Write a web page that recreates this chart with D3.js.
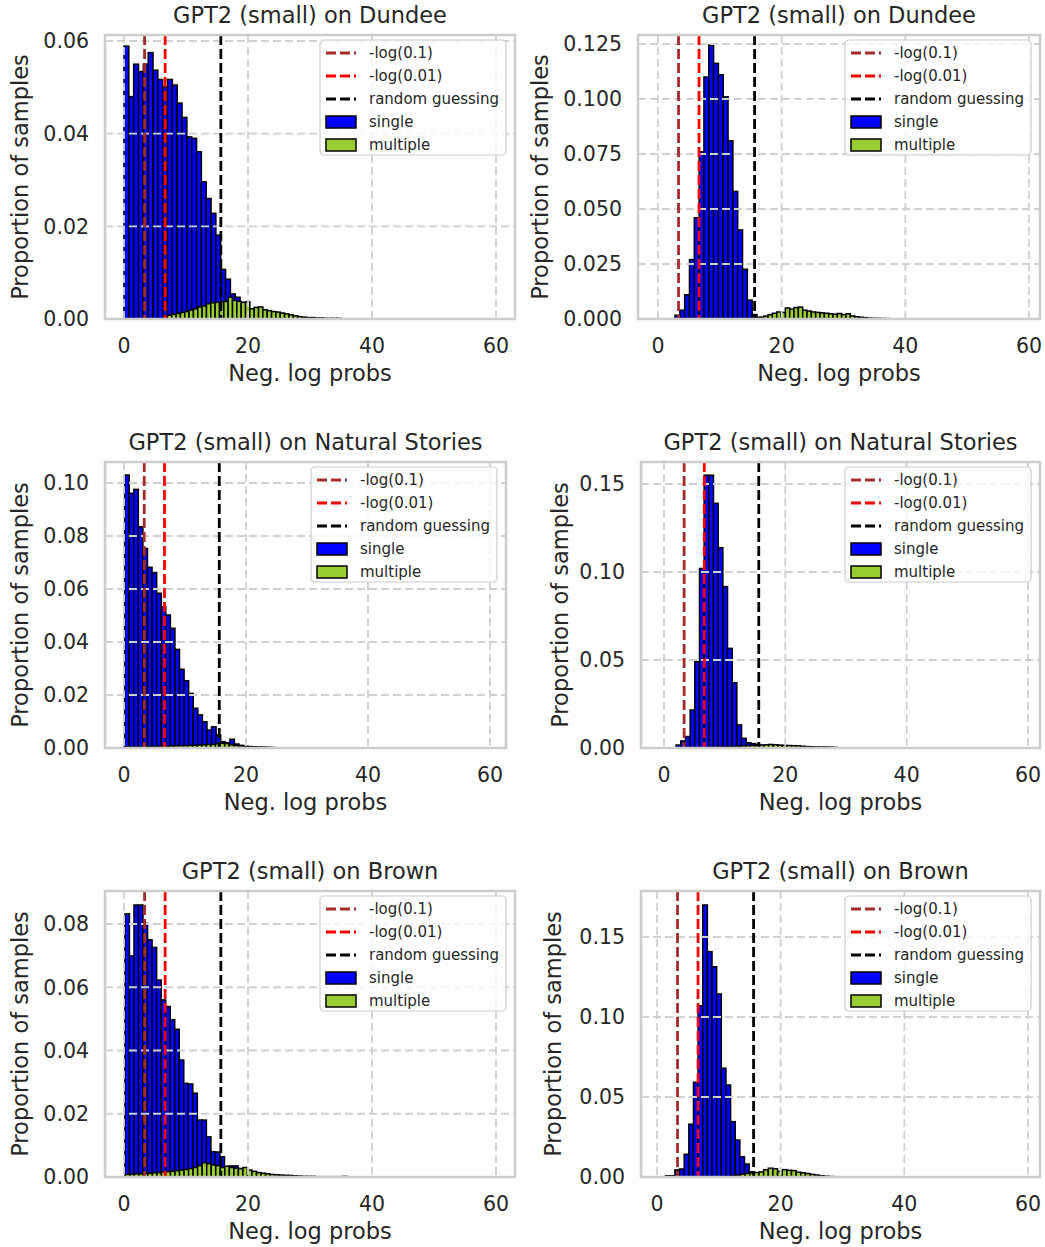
<!DOCTYPE html>
<html>
<head>
<meta charset="utf-8">
<script src="https://cdn.jsdelivr.net/npm/d3@7"></script>
<style>
  body { margin: 0; background: #fff; }
  text { font-family: "DejaVu Sans", sans-serif; fill: #262626; }
</style>
</head>
<body>
<div id="chart"></div>
<script>
// ---- data ----
const titles = ["GPT2 (small) on Dundee", "GPT2 (small) on Dundee",
  "GPT2 (small) on Natural Stories", "GPT2 (small) on Natural Stories",
  "GPT2 (small) on Brown", "GPT2 (small) on Brown"];
const xTicks = [0, 20, 40, 60];
const yTicks = [
  [0, 0.02, 0.04, 0.06],
  [0, 0.025, 0.05, 0.075, 0.1, 0.125],
  [0, 0.02, 0.04, 0.06, 0.08, 0.1],
  [0, 0.05, 0.1, 0.15],
  [0, 0.02, 0.04, 0.06, 0.08],
  [0, 0.05, 0.1, 0.15]
];
// -log2(0.1), -log2(0.01), log2(vocab size)
const refLineX = [3.32, 6.64, 15.62];
const legendLabels = ["-log(0.1)", "-log(0.01)", "random guessing", "single", "multiple"];

// histogram bins: first left edge and bin width, then heights
const singleStart = [0, 2.75, 0.1, 2.0, 0.15, 1.4];
const singleWidth = [0.78, 0.78, 0.75, 0.77, 0.73, 0.75];
const multipleStart = [7.0, 15.7, 0, 7.5, 0.2, 12.0];
const multipleWidth = [0.7, 0.7, 0.75, 0.75, 0.73, 0.75];

const singleDundeeL = [0.0589, 0.048, 0.055, 0.0534, 0.055, 0.0575, 0.0537, 0.0517, 0.0501, 0.0517,
  0.0505, 0.0466, 0.0435, 0.0393, 0.039, 0.0361, 0.0296, 0.026, 0.0228, 0.0181, 0.0107, 0.0086,
  0.0054, 0.0047, 0.003, 0.002, 0.0015, 0.001, 0.0008, 0.0006, 0.0005, 0.0004, 0.0003, 0.0003,
  0.0002, 0.0002, 0.0001, 0.0001, 0.0001, 0.0001, 0.0001, 0.0001, 0.0001, 0.0001, 0.0001];
const multipleDundeeL = [0.0008, 0.0010, 0.0012, 0.0014, 0.0016, 0.0019, 0.0022, 0.0026, 0.0028,
  0.0033, 0.0035, 0.0036, 0.0037, 0.0038, 0.0047, 0.0040, 0.0038, 0.0036, 0.0037, 0.0022, 0.0025,
  0.0026, 0.0020, 0.0018, 0.0016, 0.0015, 0.0013, 0.0011, 0.0009, 0.0007, 0.0005, 0.0004, 0.0003,
  0.0003, 0.0002, 0.0002, 0.0001, 0.0001, 0.0001, 0.0001];
const singleDundeeR = [0.0017, 0.004, 0.011, 0.027, 0.046, 0.076, 0.110, 0.1245, 0.1162, 0.111,
  0.101, 0.081, 0.058, 0.0405, 0.0226, 0.0086, 0.002];
const multipleDundeeR = [0.0006, 0.0009, 0.0013, 0.0020, 0.0026, 0.0032, 0.0030, 0.0050, 0.0045,
  0.0052, 0.0054, 0.0040, 0.0036, 0.0032, 0.0030, 0.0028, 0.0026, 0.0024, 0.0022, 0.0025, 0.0020,
  0.0024, 0.0014, 0.0010, 0.0008, 0.0006, 0.0004, 0.0003, 0.0003, 0.0002, 0.0002, 0.0001, 0.0001,
  0.0001, 0.0001];
const singleNatStoriesL = [0.103, 0.0961, 0.0976, 0.0835, 0.0753, 0.0682, 0.0662, 0.0584, 0.0533,
  0.0502, 0.0452, 0.0372, 0.0297, 0.0254, 0.0206, 0.015, 0.0125, 0.0099, 0.0068, 0.008, 0.0049,
  0.0024, 0.002, 0.0033, 0.0015, 0.001, 0.0006, 0.0005, 0.0004, 0.0003, 0.0003, 0.0002, 0.0002];
const multipleNatStoriesL = [0.0004, 0.0004, 0.0005, 0.0005, 0.0005, 0.0006, 0.0006, 0.0006, 0.0007,
  0.0007, 0.0008, 0.0008, 0.0009, 0.0009, 0.0010, 0.0010, 0.0011, 0.0012, 0.0013, 0.0014, 0.0016,
  0.0018, 0.0017, 0.0012, 0.0010, 0.0008, 0.0006, 0.0005, 0.0004, 0.0003, 0.0002, 0.0002, 0.0001];
const singleNatStoriesR = [0.0017, 0.004, 0.0065, 0.0216, 0.049, 0.102, 0.155, 0.155, 0.139, 0.1138,
  0.0917, 0.0566, 0.0371, 0.0131, 0.0055, 0.003, 0.0025, 0.002, 0.0015, 0.0012, 0.0010, 0.0015,
  0.0008, 0.0008, 0.0008, 0.0006, 0.0005];
const multipleNatStoriesR = [0.0003, 0.0004, 0.0005, 0.0006, 0.0008, 0.0009, 0.0010, 0.0012, 0.0013,
  0.0014, 0.0015, 0.0016, 0.0018, 0.0020, 0.0018, 0.0016, 0.0015, 0.0014, 0.0013, 0.0012, 0.0010,
  0.0008, 0.0007, 0.0006, 0.0006, 0.0006, 0.0005, 0.0004];
const singleBrownL = [0.0832, 0.0699, 0.086, 0.086, 0.0802, 0.075, 0.0726, 0.0623, 0.056, 0.0539,
  0.0497, 0.0467, 0.037, 0.0296, 0.0294, 0.0265, 0.018, 0.018, 0.0127, 0.008, 0.0079, 0.0064,
  0.0027, 0.0035, 0.0035, 0.0027, 0.002, 0.0015, 0.0012, 0.001, 0.0008, 0.0006, 0.0005, 0.0004,
  0.0003, 0.0003];
const multipleBrownL = [0.0008, 0.0009, 0.0010, 0.0010, 0.0011, 0.0012, 0.0013, 0.0014, 0.0016,
  0.0017, 0.0018, 0.0020, 0.0022, 0.0024, 0.0027, 0.0030, 0.0036, 0.0045, 0.0042, 0.0038, 0.0036,
  0.0030, 0.0034, 0.0030, 0.0028, 0.0026, 0.0030, 0.0022, 0.0018, 0.0014, 0.0012, 0.0010, 0.0008,
  0.0007, 0.0006, 0.0005, 0.0005, 0.0004, 0.0003, 0.0002, 0.0002, 0.0002, 0.0001, 0.0001, 0.0001,
  0.0001, 0.0001, 0.0001, 0.0002];
const singleBrownR = [0.0008, 0.0008, 0.0044, 0.005, 0.0142, 0.033, 0.0592, 0.107, 0.17, 0.1408,
  0.1314, 0.1144, 0.068, 0.0575, 0.0346, 0.0231, 0.0127, 0.0081, 0.0033, 0.002, 0.0015, 0.001,
  0.0008, 0.0006, 0.0005];
const multipleBrownR = [0.0008, 0.0012, 0.0018, 0.0022, 0.0025, 0.0028, 0.0032, 0.0045, 0.0055,
  0.0052, 0.0035, 0.0046, 0.0042, 0.0040, 0.0030, 0.0026, 0.0022, 0.0016, 0.0012, 0.0008, 0.0005,
  0.0003, 0.0002];

const singleSeries = [singleDundeeL, singleDundeeR, singleNatStoriesL, singleNatStoriesR, singleBrownL, singleBrownR];
const multipleSeries = [multipleDundeeL, multipleDundeeR, multipleNatStoriesL, multipleNatStoriesR, multipleBrownL, multipleBrownR];

// ---- layout (pixels) ----
const layout = [
  {l: 105, r: 515, t: 35, b: 319, x0: 124, x60: 496, yTopPx: 41, fmt: ".2f", ylabX: 20},
  {l: 638, r: 1040, t: 35, b: 319, x0: 658, x60: 1029, yTopPx: 44, fmt: ".3f", ylabX: 540},
  {l: 105, r: 506, t: 462, b: 748, x0: 124, x60: 490, yTopPx: 483, fmt: ".2f", ylabX: 20},
  {l: 641, r: 1040, t: 462, b: 748, x0: 664, x60: 1028, yTopPx: 484, fmt: ".2f", ylabX: 560},
  {l: 105, r: 515, t: 891, b: 1177, x0: 124, x60: 496, yTopPx: 924, fmt: ".2f", ylabX: 20},
  {l: 641, r: 1040, t: 891, b: 1177, x0: 657, x60: 1028, yTopPx: 937, fmt: ".2f", ylabX: 553}
];
const refColors = ["#a52a2a", "#ff0000", "#000000"];
const singleColor = "#0000ff", multipleColor = "#9acd32";
const gridColor = "#d0d0d0", spineColor = "#cccccc";

const svg = d3.select("#chart").append("svg")
  .attr("width", 1045).attr("height", 1247);

layout.forEach((p, k) => {
  const g = svg.append("g");
  const x = d3.scaleLinear().domain([0, 60]).range([p.x0, p.x60]);
  const ticksY = yTicks[k];
  const y = d3.scaleLinear().domain([0, ticksY[ticksY.length - 1]]).range([p.b, p.yTopPx]);

  // clip to plot area
  const clipId = "clip" + k;
  svg.append("clipPath").attr("id", clipId).append("rect")
    .attr("x", p.l).attr("y", p.t).attr("width", p.r - p.l).attr("height", p.b - p.t);
  const plot = g.append("g").attr("clip-path", "url(#" + clipId + ")");

  // bars
  function drawBars(vals, start, w, fill) {
    plot.append("g").selectAll("rect").data(vals).enter().append("rect")
      .attr("x", (d, i) => x(start + i * w))
      .attr("width", (d, i) => x(start + (i + 1) * w) - x(start + i * w))
      .attr("y", d => y(d))
      .attr("height", d => y(0) - y(d))
      .attr("fill", fill)
      .attr("stroke", "#000").attr("stroke-width", 1.5);
  }
  drawBars(singleSeries[k], singleStart[k], singleWidth[k], singleColor);
  drawBars(multipleSeries[k], multipleStart[k], multipleWidth[k], multipleColor);

  // grid above bars
  plot.append("g").selectAll("line").data(ticksY).enter().append("line")
    .attr("x1", p.l).attr("x2", p.r)
    .attr("y1", d => y(d)).attr("y2", d => y(d))
    .attr("stroke", gridColor).attr("stroke-width", 1.8).attr("stroke-dasharray", "8 4");
  plot.append("g").selectAll("line").data(xTicks).enter().append("line")
    .attr("y1", p.t).attr("y2", p.b)
    .attr("x1", d => x(d)).attr("x2", d => x(d))
    .attr("stroke", gridColor).attr("stroke-width", 1.8).attr("stroke-dasharray", "8 4");

  // reference lines
  plot.append("g").selectAll("line").data(refLineX).enter().append("line")
    .attr("x1", d => x(d)).attr("x2", d => x(d))
    .attr("y1", p.t).attr("y2", p.b)
    .attr("stroke", (d, i) => refColors[i]).attr("stroke-width", 2.8)
    .attr("stroke-dasharray", "10 4");

  // spines
  g.append("rect").attr("x", p.l).attr("y", p.t)
    .attr("width", p.r - p.l).attr("height", p.b - p.t)
    .attr("fill", "none").attr("stroke", spineColor).attr("stroke-width", 2.5);

  // tick labels
  const fmt = d3.format(p.fmt);
  g.append("g").selectAll("text").data(ticksY).enter().append("text")
    .attr("x", p.l - 16).attr("y", d => y(d)).attr("dy", "0.36em")
    .attr("text-anchor", "end").style("font-size", "20.5px")
    .text(d => fmt(d));
  g.append("g").selectAll("text").data(xTicks).enter().append("text")
    .attr("x", d => x(d)).attr("y", p.b + 34)
    .attr("text-anchor", "middle").style("font-size", "20.5px")
    .text(d => d);

  // axis labels and title
  g.append("text").attr("x", (p.l + p.r) / 2).attr("y", p.b + 62)
    .attr("text-anchor", "middle").style("font-size", "22.5px").text("Neg. log probs");
  g.append("text")
    .attr("transform", "translate(" + p.ylabX + "," + ((p.t + p.b) / 2) + ") rotate(-90)")
    .attr("dy", "0.36em").attr("text-anchor", "middle").style("font-size", "22.5px")
    .text("Proportion of samples");
  g.append("text").attr("x", (p.l + p.r) / 2).attr("y", p.t - 12)
    .attr("text-anchor", "middle").style("font-size", "22.5px").text(titles[k]);

  // legend
  const lw = 186, lh = 115;
  const lx = p.r - 9 - lw, ly = p.t + 5;
  const leg = g.append("g").attr("transform", "translate(" + lx + "," + ly + ")");
  leg.append("rect").attr("width", lw).attr("height", lh).attr("rx", 4)
    .attr("fill", "#fff").attr("fill-opacity", 0.8)
    .attr("stroke", "#cccccc").attr("stroke-width", 1.2);
  legendLabels.forEach((lab, i) => {
    const cy = 13 + i * 23;
    if (i < 3) {
      leg.append("line").attr("x1", 6).attr("x2", 36).attr("y1", cy).attr("y2", cy)
        .attr("stroke", refColors[i]).attr("stroke-width", 2.8).attr("stroke-dasharray", "10 4");
    } else {
      leg.append("rect").attr("x", 6).attr("y", cy - 6).attr("width", 30).attr("height", 12)
        .attr("fill", i === 3 ? singleColor : multipleColor)
        .attr("stroke", "#000").attr("stroke-width", 1.5);
    }
    leg.append("text").attr("x", 49).attr("y", cy).attr("dy", "0.36em")
      .style("font-size", "15px").text(lab);
  });
});
</script>
</body>
</html>
